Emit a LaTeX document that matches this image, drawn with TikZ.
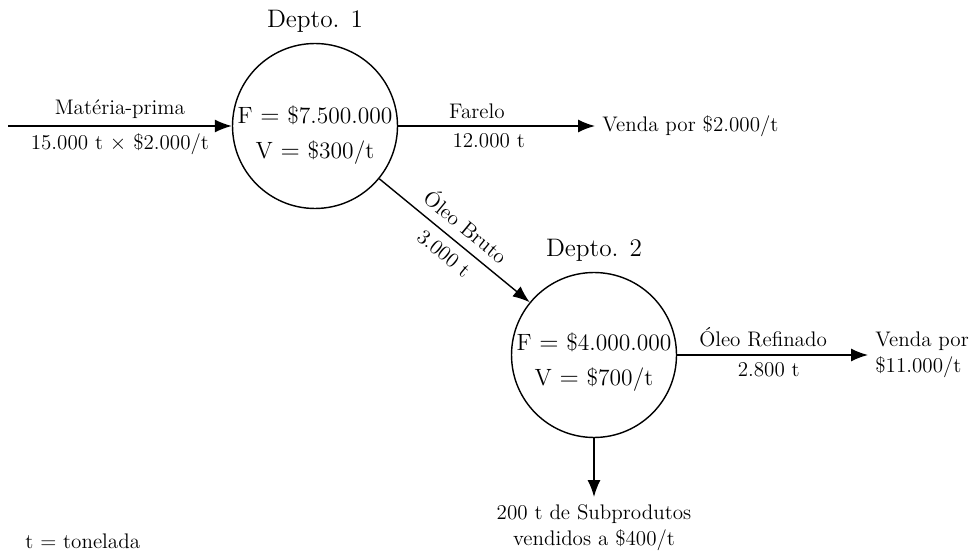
\documentclass[tikz,border=0pt,12pt]{standalone}
\usepackage{fontspec}
\usepackage{tikz}
\usetikzlibrary{arrows.meta}
\usetikzlibrary{positioning}
\tikzset{flow/.style={draw, line width=0.8pt, -{Latex[length=3.4mm, width=2.6mm]}}}
\tikzset{dept/.style={draw, circle, line width=0.8pt, minimum size=3.3cm, inner sep=0pt}}
\tikzset{vals/.style={align=center, font=\fontsize{13.4}{20}\selectfont}}

\begin{document}
\begin{tikzpicture}[x=0.02cm, y=-0.02cm]
    \useasboundingbox (0,0) rectangle (972,553);
    \node[dept] at (315, 126) (d1) {};
    \node[dept] at (594, 355) (d2) {};
    \node[vals, yshift=-0.19cm] at (d1) (c1) {F $=$ \$7.500.000\\V $=$ \$300/t};
    \node[vals, yshift=-0.14cm] at (d2) (c2) {F $=$ \$4.000.000\\V $=$ \$700/t};
    \node[above=2pt of d1, font=\large] (t1) {Depto. 1};
    \node[above=2pt of d2, font=\large] (t2) {Depto. 2};

    \coordinate (in) at (8, 126);
    \node[anchor=west] at (595, 126) (v1) {Venda por \$2.000/t};
    \node[anchor=west, align=left, font=\fontsize{12}{15}\selectfont] at (868, 355) (v2) {Venda por\\\$11.000/t};
    \node[anchor=north, align=center, font=\fontsize{12}{14.7}\selectfont] at (594, 497) (sub) {200 t de Subprodutos\\vendidos a \$400/t};

    \draw[flow] (in) -- node[above] {Matéria-prima} node[below] {15.000 t $\times$ \$2.000/t} (d1);
    \draw[flow] (d1) -- node[above, pos=0.4] {Farelo} node[below, pos=0.46] {12.000 t} (v1);
    \draw[flow] (d1) -- node[sloped, above=1pt] {Óleo Bruto} node[sloped, below=1pt] {3.000 t} (d2);
    \draw[flow] (d2) -- node[above, pos=0.45] {Óleo Refinado} node[below, pos=0.48] {2.800 t} (v2);
    \draw[flow] (d2) -- (sub);

    % legenda
    \node[anchor=west] at (18, 541) (ton) {t $=$ tonelada};
\end{tikzpicture}
\end{document}
